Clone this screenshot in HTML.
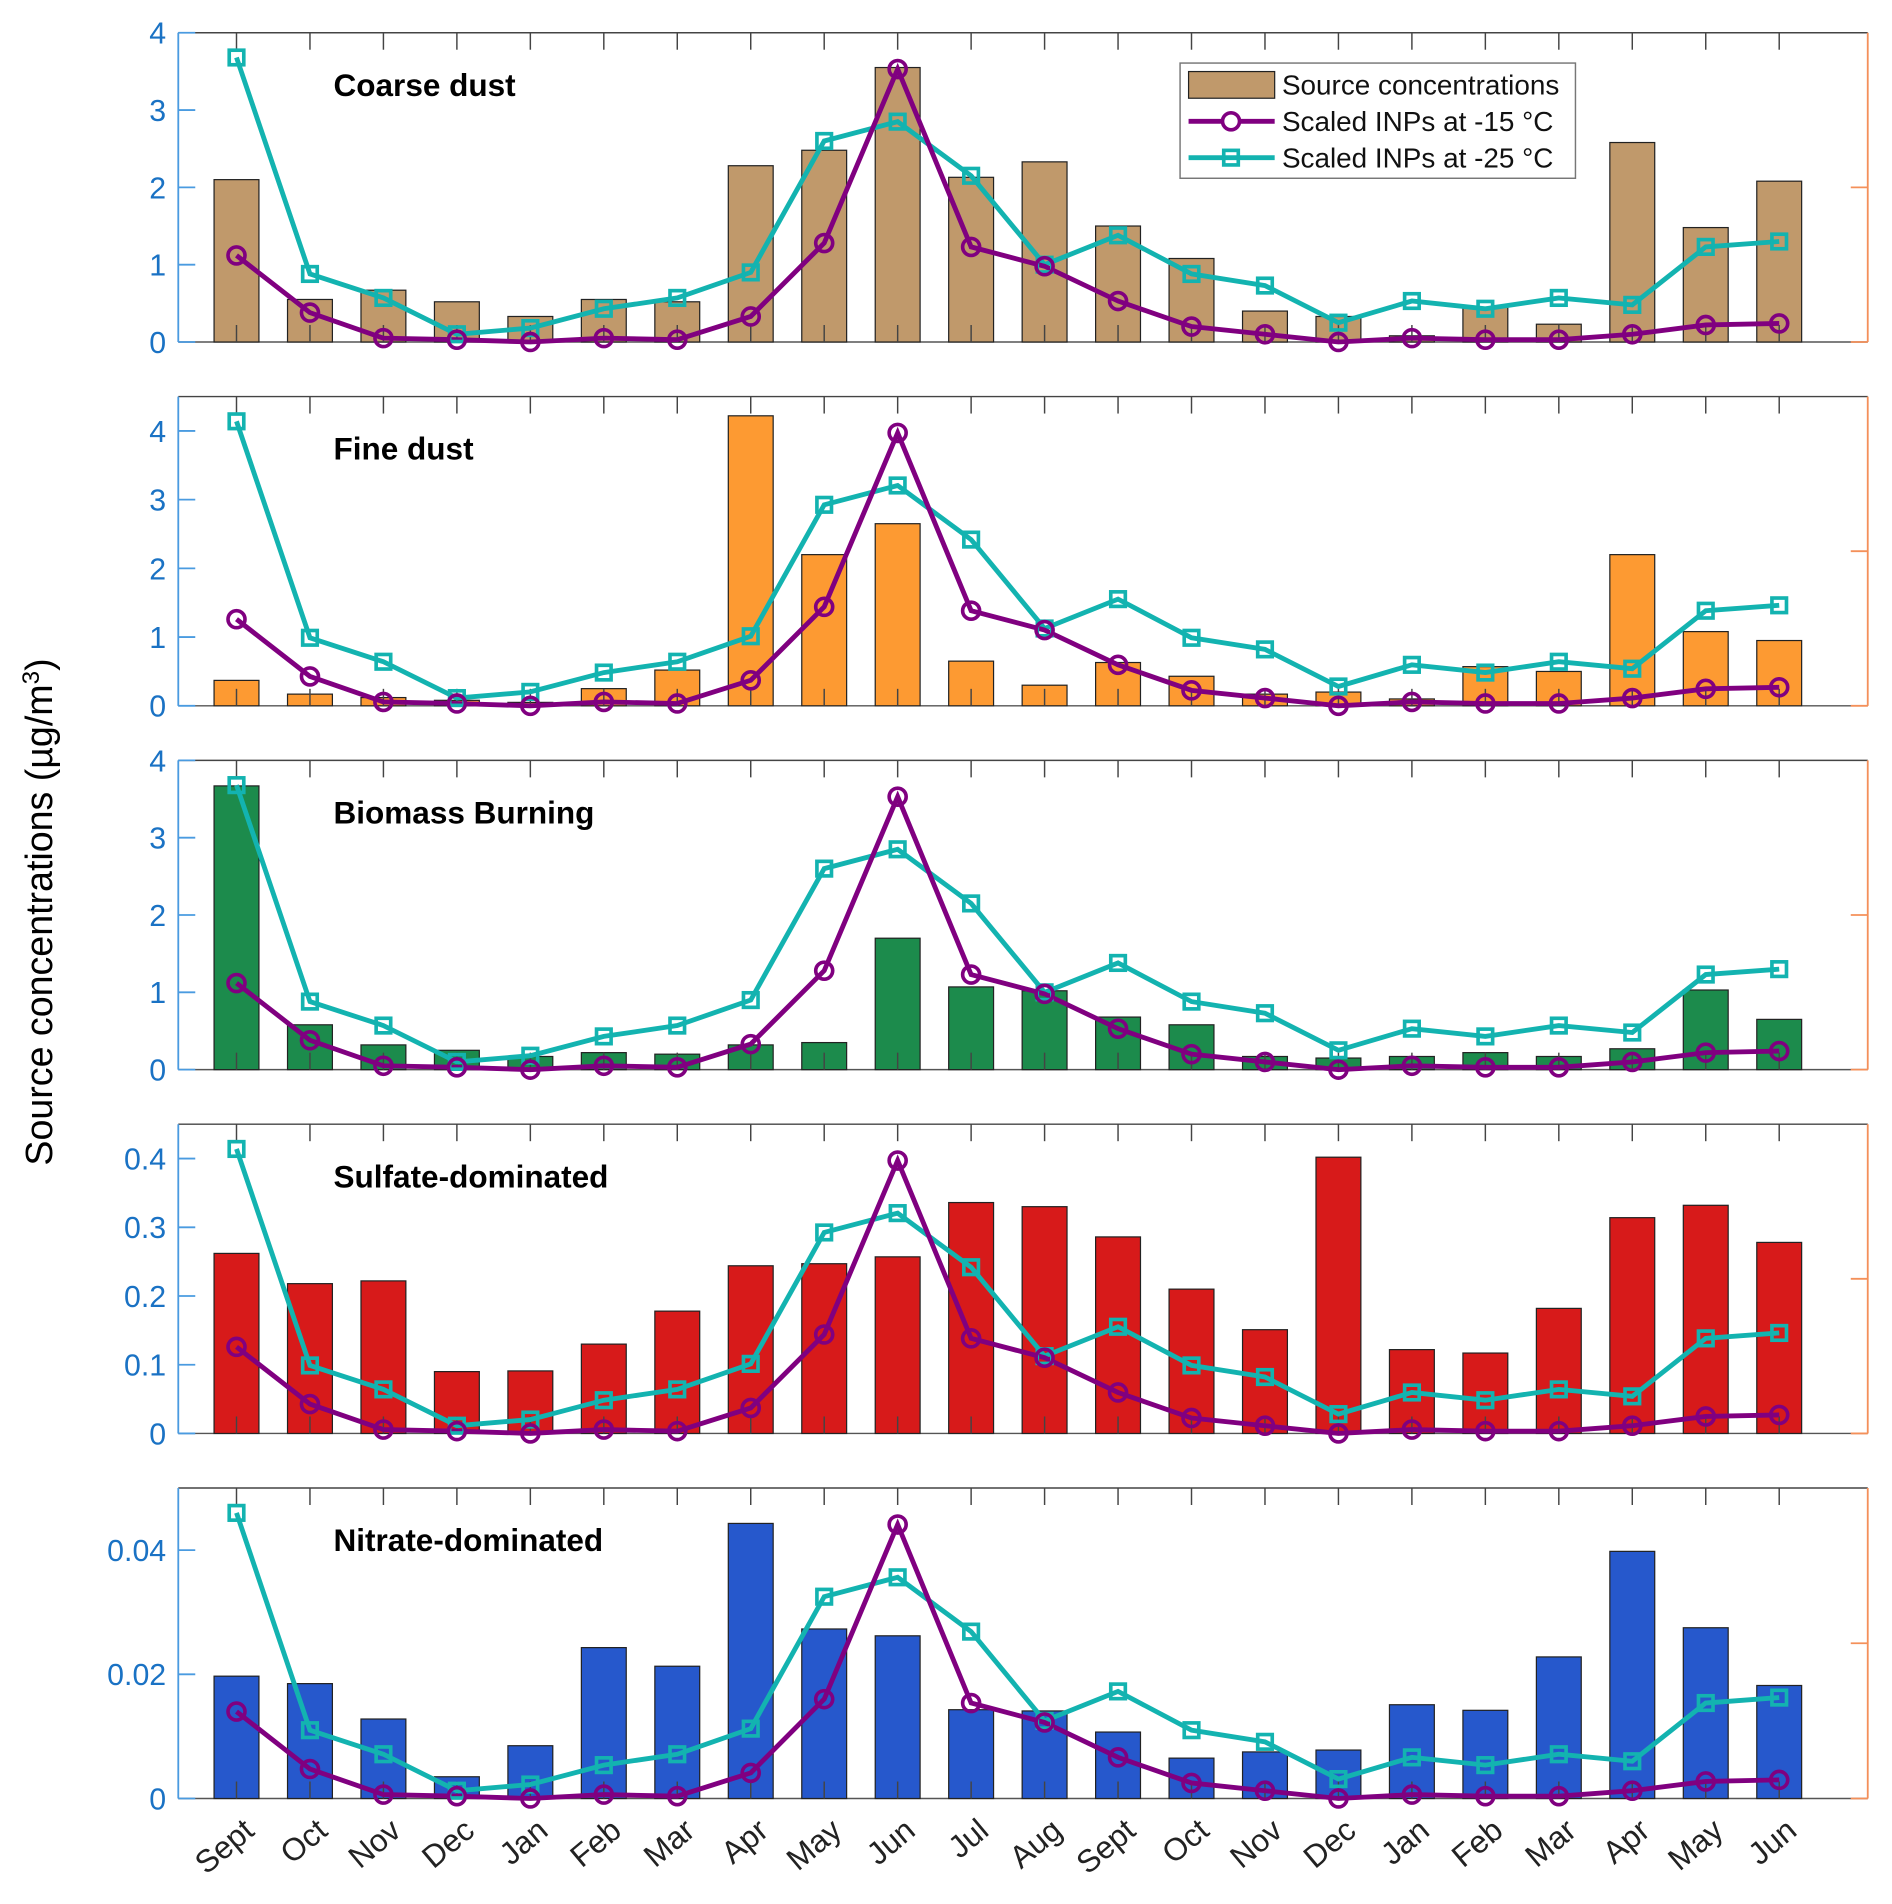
<!DOCTYPE html>
<html><head><meta charset="utf-8"><style>
html,body{margin:0;padding:0;background:#fff;}
svg{display:block;font-family:"Liberation Sans",Arial,sans-serif;}
</style></head><body>
<svg id="chart" width="1892" height="1904" viewBox="0 0 1560 1570" preserveAspectRatio="none" xmlns="http://www.w3.org/2000/svg"></svg>
<script>
const categories = ["Sept","Oct","Nov","Dec","Jan","Feb","Mar","Apr","May","Jun","Jul","Aug","Sept","Oct","Nov","Dec","Jan","Feb","Mar","Apr","May","Jun"];
const coarseDust = [2.1,0.55,0.67,0.52,0.33,0.55,0.52,2.28,2.48,3.55,2.13,2.33,1.5,1.08,0.4,0.33,0.08,0.45,0.23,2.58,1.48,2.08];
const fineDust = [0.37,0.17,0.12,0.08,0.05,0.25,0.52,4.22,2.2,2.65,0.65,0.3,0.63,0.43,0.17,0.2,0.1,0.57,0.5,2.2,1.08,0.95];
const biomass = [3.67,0.58,0.32,0.25,0.17,0.22,0.2,0.32,0.35,1.7,1.07,1.02,0.68,0.58,0.17,0.15,0.17,0.22,0.17,0.27,1.03,0.65];
const sulfate = [0.262,0.218,0.222,0.09,0.091,0.13,0.178,0.244,0.247,0.257,0.336,0.33,0.286,0.21,0.151,0.402,0.122,0.117,0.182,0.314,0.332,0.278];
const nitrate = [0.0197,0.0185,0.0128,0.0035,0.0085,0.0243,0.0213,0.0443,0.0273,0.0262,0.0143,0.0141,0.0107,0.0065,0.0075,0.0078,0.0151,0.0142,0.0228,0.0398,0.0275,0.0182];
// scaled INP series (in units of the coarse-dust axis, 0-4)
const inp15 = [1.12,0.38,0.05,0.03,0.0,0.05,0.03,0.33,1.28,3.53,1.23,0.98,0.53,0.2,0.1,0.0,0.05,0.03,0.03,0.1,0.22,0.24];
const inp25 = [3.68,0.88,0.57,0.1,0.18,0.43,0.57,0.9,2.6,2.85,2.15,1.0,1.38,0.88,0.73,0.25,0.53,0.43,0.57,0.48,1.23,1.3];
const panelNames = ["Coarse dust","Fine dust","Biomass Burning","Sulfate-dominated","Nitrate-dominated"];
const panelMax = [4,4.5,4,0.45,0.05];
const inpScale = [1,1.125,1,0.1125,0.0125];
const tickLabels1 = ["0","1","2","3","4"];
const tickValues1 = [0,1,2,3,4];
const tickLabels4 = ["0","0.1","0.2","0.3","0.4"];
const tickValues4 = [0,0.1,0.2,0.3,0.4];
const tickLabels5 = ["0","0.02","0.04"];
const tickValues5 = [0,0.02,0.04];

const svg = document.getElementById('chart');
const NS = 'http://www.w3.org/2000/svg';
function mk(tag, attrs, parent){const e=document.createElementNS(NS,tag);for(const k in attrs)e.setAttribute(k,attrs[k]);(parent||svg).appendChild(e);return e;}

const panelData = [coarseDust,fineDust,biomass,sulfate,nitrate];
const barColors = ["#c0996b","#fd9a32","#1c8b4c","#d71a1a","#2658cc"];
const tickSets = [[tickValues1,tickLabels1],[tickValues1,tickLabels1],[tickValues1,tickLabels1],[tickValues4,tickLabels4],[tickValues5,tickLabels5]];
const L=147, R=1540, X0=195, DX=(1467-195)/21, BW=37;
const tops=[27,327,627,927,1227], H=[255,255,255,255,256];
function xs(i){return X0+i*DX;}

for(let p=0;p<5;p++){
  const top=tops[p], bot=top+H[p], max=panelMax[p];
  const ys=v=>bot-(v/max)*H[p];
  const g=mk('g',{});
  
  
  const fr=mk('line',{x1:L,y1:top,x2:R,y2:top,stroke:'#444','stroke-width':1.2},g);
  
  const xa=mk('line',{x1:L,y1:bot,x2:R,y2:bot,stroke:'#555','stroke-width':1.2},g);
  
  const la=mk('line',{x1:L,y1:top,x2:L,y2:bot,stroke:'#4a9be0','stroke-width':1.5},g);
  
  const ra=mk('line',{x1:R,y1:top,x2:R,y2:bot,stroke:'#f4905a','stroke-width':1.5},g);
  
  mk('line',{x1:R-14,y1:(top+bot)/2,x2:R,y2:(top+bot)/2,stroke:'#f4905a','stroke-width':1.5},g);
  mk('line',{x1:R-14,y1:bot,x2:R,y2:bot,stroke:'#f4905a','stroke-width':1.5},g);
  panelData[p].forEach((v,i)=>{
    const b=mk('rect',{x:xs(i)-BW/2,y:ys(v),width:BW,height:bot-ys(v),fill:barColors[p],stroke:'#222','stroke-width':1},g);
    
    
  });
  categories.forEach((c,i)=>{
    mk('line',{x1:xs(i),y1:top,x2:xs(i),y2:top+14,stroke:'#444','stroke-width':1.2},g);
    mk('line',{x1:xs(i),y1:bot,x2:xs(i),y2:bot-14,stroke:'#444','stroke-width':1.2},g);
  });
  const [tv,tl]=tickSets[p];
  tv.forEach((v,k)=>{
    mk('line',{x1:L,y1:ys(v),x2:L+14,y2:ys(v),stroke:'#4a9be0','stroke-width':1.5},g);
    const t=mk('text',{x:L-10,y:ys(v)+9,'text-anchor':'end','font-size':25,fill:'#1a72c4'},g);
    t.textContent=tl[k];
    
  });
  const sc=inpScale[p];
  const pts25=inp25.map((v,i)=>xs(i)+','+ys(v*sc)).join(' ');
  const pts15=inp15.map((v,i)=>xs(i)+','+ys(v*sc)).join(' ');
  const l25=mk('polyline',{points:pts25,fill:'none',stroke:'#13b3b0','stroke-width':4},g);
  
  const l15=mk('polyline',{points:pts15,fill:'none',stroke:'#800080','stroke-width':4},g);
  
  inp25.forEach((v,i)=>{
    const m=mk('rect',{x:xs(i)-6,y:ys(v*sc)-6,width:12,height:12,fill:'none',stroke:'#13b3b0','stroke-width':3},g);
    
  });
  inp15.forEach((v,i)=>{
    const m=mk('circle',{cx:xs(i),cy:ys(v*sc),r:7,fill:'none',stroke:'#800080','stroke-width':3},g);
    
  });
  const tt=mk('text',{x:275,y:top+52,'font-size':26,'font-weight':'bold',fill:'#000'},g);
  tt.textContent=panelNames[p];
  
}
categories.forEach((c,i)=>{
  const t=mk('text',{x:0,y:0,'text-anchor':'end','font-size':26,fill:'#222',transform:'translate('+(xs(i)+16)+',1512) rotate(-40)'});
  t.textContent=c;
  
});
const yt=mk('text',{x:0,y:0,'text-anchor':'middle','font-size':31,fill:'#000',transform:'translate(43,752) rotate(-90)'});

yt.innerHTML='Source concentrations (µg/m<tspan baseline-shift="super" font-size="20">3</tspan>)';
const lg=mk('g',{});

mk('rect',{x:973,y:52,width:326,height:95,fill:'#fff',stroke:'#777','stroke-width':1.2},lg);
mk('rect',{x:980,y:59,width:71,height:22,fill:'#c0996b',stroke:'#222','stroke-width':1},lg);
mk('line',{x1:980,y1:100,x2:1051,y2:100,stroke:'#800080','stroke-width':4},lg);
mk('circle',{cx:1015,cy:100,r:7,fill:'#fff',stroke:'#800080','stroke-width':3},lg);
mk('line',{x1:980,y1:130,x2:1051,y2:130,stroke:'#13b3b0','stroke-width':4},lg);
mk('rect',{x:1009,y:124,width:12,height:12,fill:'none',stroke:'#13b3b0','stroke-width':3},lg);
const lt=["Source concentrations","Scaled INPs at -15 °C","Scaled INPs at -25 °C"];
const ln=["legend-entry-source","legend-entry-inp-15","legend-entry-inp-25"];
lt.forEach((s,k)=>{
  const t=mk('text',{x:1057,y:78+k*30,'font-size':23,fill:'#111'},lg);
  t.textContent=s;
  
  
});
</script>
</body></html>
